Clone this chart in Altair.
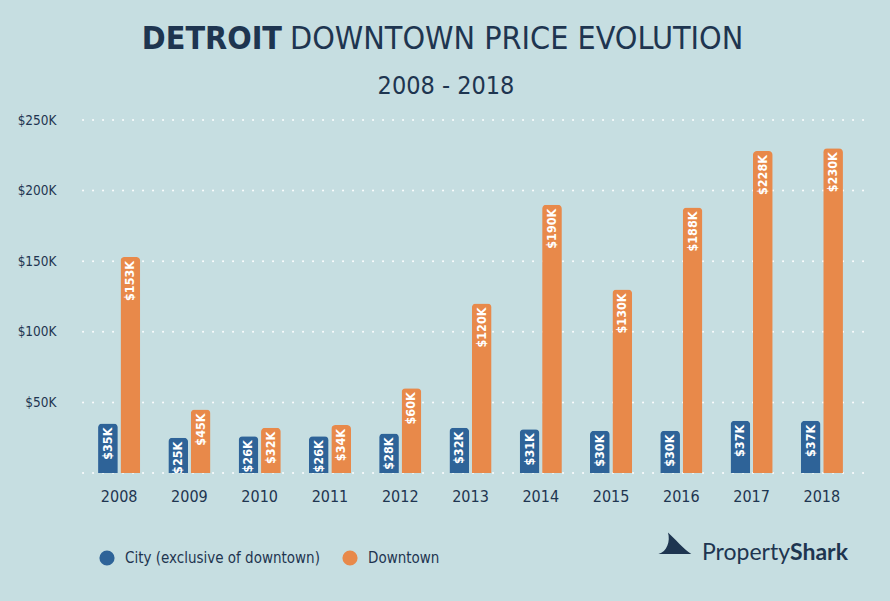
import altair as alt
import pandas as pd

years = ["2008", "2009", "2010", "2011", "2012", "2013", "2014", "2015", "2016", "2017", "2018"]
city = [35, 25, 26, 26, 28, 32, 31, 30, 30, 37, 37]
downtown = [153, 45, 32, 34, 60, 120, 190, 130, 188, 228, 230]
series = ["City (exclusive of downtown)", "Downtown"]
colors = ["#2E6398", "#E8894A"]
grid_values = [0, 50, 100, 150, 200, 250]
axis_ticks = [50, 100, 150, 200, 250]

BG = "#C6DEE1"
INK = "#1E3550"
NARROW = "DejaVu Sans Condensed, sans-serif"

rows = []
for y, c, d in zip(years, city, downtown):
    rows.append({"year": y, "series": series[0], "value": c, "label": f"${c}K"})
    rows.append({"year": y, "series": series[1], "value": d, "label": f"${d}K"})
df = pd.DataFrame(rows)

W, H = 773, 353

xenc = alt.X("year:N", sort=years, title=None,
             scale=alt.Scale(paddingInner=0.4, paddingOuter=0.2),
             axis=alt.Axis(labelAngle=0, domain=False, ticks=False, labelPadding=15,
                           labelFont=NARROW, labelFontSize=16, labelColor=INK))
xoff = alt.XOffset("series:N", sort=series, scale=alt.Scale(paddingInner=0.12))
yenc = alt.Y("value:Q", title=None,
             scale=alt.Scale(domain=[0, 250], nice=False),
             axis=alt.Axis(values=axis_ticks, domain=False, ticks=False, grid=False,
                           labelExpr="'$' + datum.value + 'K'", labelPadding=28,
                           labelFont=NARROW, labelFontSize=13.5, labelColor=INK))
cenc = alt.Color("series:N", sort=series,
                 scale=alt.Scale(domain=series, range=colors),
                 legend=alt.Legend(title=None, orient="none", legendX=15, legendY=430,
                                   direction="horizontal", symbolType="circle",
                                   symbolSize=230, symbolStrokeWidth=0, labelLimit=400,
                                   labelFont=NARROW, labelFontSize=15, labelColor=INK,
                                   labelOffset=10, columnPadding=22))

grid = alt.Chart(pd.DataFrame({"g": grid_values})).mark_rule(
    color="white", strokeWidth=2, strokeDash=[0.1, 9.9], strokeCap="round", opacity=0.9
).encode(y=alt.Y("g:Q", scale=alt.Scale(domain=[0, 250], nice=False)),
         x=alt.value(-1), x2=alt.value(786))

bars = alt.Chart(df).mark_bar(cornerRadiusTopLeft=4, cornerRadiusTopRight=4).encode(
    x=xenc, xOffset=xoff, y=yenc, color=cenc)

labels = alt.Chart(df).mark_text(
    angle=270, align="right", baseline="middle", dx=-4, color="white",
    font=NARROW, fontSize=12.5, fontWeight="bold"
).encode(x=alt.X("year:N", sort=years), xOffset=alt.XOffset("series:N", sort=series),
         y="value:Q", text="label:N")

one = pd.DataFrame({"a": [0]})
t1 = alt.Chart(one).mark_text(text="DETROIT", align="right", baseline="alphabetic",
                              font=NARROW, fontSize=32, fontWeight="bold", color=INK
                              ).encode(x=alt.value(198), y=alt.value(-71))
t2 = alt.Chart(one).mark_text(text="DOWNTOWN PRICE EVOLUTION", align="left", baseline="alphabetic",
                              font=NARROW, fontSize=32, color=INK
                              ).encode(x=alt.value(206), y=alt.value(-71))
t3 = alt.Chart(one).mark_text(text="2008 - 2018", align="center", baseline="alphabetic",
                              font=NARROW, fontSize=25, color=INK
                              ).encode(x=alt.value(362), y=alt.value(-26))
logo1 = alt.Chart(one).mark_text(text="Property", align="right", baseline="middle",
                                 font="Lato", fontSize=23, color=INK
                                 ).encode(x=alt.value(706), y=alt.value(433))
logo2 = alt.Chart(one).mark_text(text="Shark", align="left", baseline="middle",
                                 font="Lato", fontSize=23, fontWeight="bold", color=INK
                                 ).encode(x=alt.value(706), y=alt.value(433))
fin = alt.Chart(one).mark_point(
    shape="M -0.9 0.35 C -0.4 0.2 -0.2 -0.4 -0.35 -0.9 C 0.1 -0.5 0.5 0 1 0.35 Z",
    filled=True, color=INK, opacity=1, size=1200
).encode(x=alt.value(590), y=alt.value(428))

chart = alt.layer(grid, bars, labels, t1, t2, t3, logo1, logo2, fin).properties(
    width=W, height=H, background=BG,
    autosize=alt.AutoSizeParams(type="none"),
    padding={"left": 84, "top": 120, "right": 33, "bottom": 128}
).configure_view(stroke=None)

chart.save("out.html", embed_options={"renderer": "svg", "actions": False})
